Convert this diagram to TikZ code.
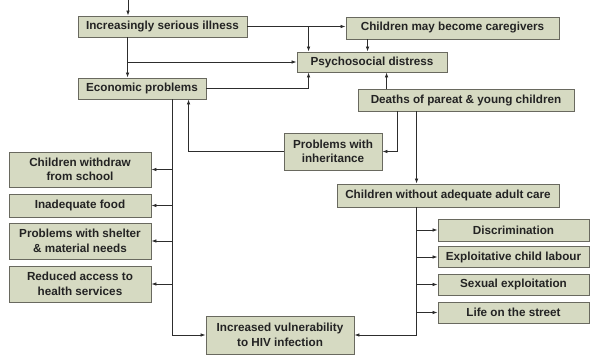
\documentclass[tikz,border=0pt]{standalone}
\usepackage{fontspec}
\setmainfont{Liberation Sans}
\usetikzlibrary{arrows.meta,calc}
\definecolor{boxfill}{RGB}{214,218,194}
\definecolor{boxdraw}{RGB}{105,105,95}
\definecolor{linec}{RGB}{45,45,45}
\definecolor{txt}{RGB}{35,35,35}
\tikzset{
  box/.style={draw=boxdraw, fill=boxfill, line width=0.9pt, inner sep=0pt,
    font=\bfseries\fontsize{11.7}{14.5}\selectfont, text=txt, align=center},
  arr/.style={draw=linec, line width=0.8pt, -{Latex[length=5pt,width=3.6pt]}},
  ln/.style={draw=linec, line width=0.8pt}
}
\begin{document}
\begin{tikzpicture}[x=1pt,y=-1pt]
\useasboundingbox (0,0) rectangle (591,356);
% nodes
\node[box, minimum width=169, minimum height=21] (ill) at (162.5,26.5) {Increasingly serious illness};
\node[box, minimum width=213, minimum height=22] (care) at (452.5,28) {Children may become caregivers};
\node[box, minimum width=150, minimum height=20] (psy) at (372,62) {Psychosocial distress};
\node[box, minimum width=128, minimum height=21] (econ) at (142,88.5) {Economic problems};
\node[box, minimum width=216, minimum height=22] (dea) at (466,100) {Deaths of pareat \& young children};
\node[box, minimum width=98, minimum height=37] (inh) at (333,151.5) {Problems with\\inheritance};
\node[box, minimum width=222, minimum height=23] (noc) at (448,195.5) {Children without adequate adult care};
\node[box, minimum width=151, minimum height=22] (dis) at (513.5,230) {Discrimination};
\node[box, minimum width=151, minimum height=21] (exp) at (513.5,257) {Exploitative child labour};
\node[box, minimum width=151, minimum height=21] (sex) at (513.5,284.5) {Sexual exploitation};
\node[box, minimum width=151, minimum height=21] (str) at (513.5,312.5) {Life on the street};
\node[box, minimum width=148, minimum height=38] (hiv) at (280,335) {Increased vulnerability\\to HIV infection};
\node[box, minimum width=142, minimum height=35] (wd) at (80,169.5) {Children withdraw\\from school};
\node[box, minimum width=142, minimum height=23] (food) at (80,205.5) {Inadequate food};
\node[box, minimum width=142, minimum height=36] (shel) at (80,241) {Problems with shelter\\\& material needs};
\node[box, minimum width=142, minimum height=36] (hea) at (80,284) {Reduced access to\\health services};
% helper coordinates
\coordinate (top) at (128,0);
\coordinate (ix) at ([xshift=50pt]ill.south west);
\coordinate (jx) at ([xshift=12pt]psy.north west);
\coordinate (ex) at ([xshift=95pt]econ.south west);
\coordinate (nx) at ([xshift=80pt]noc.south west);
% connectors
\draw[arr] (top) -- (top |- ill.north);
\draw[arr] (ill.east) -- (ill.east -| care.west);
\draw[arr] (jx |- ill.east) -- (jx);
\draw[arr] ([xshift=22pt]care.south west) -- ([xshift=22pt]care.south west |- psy.north);
\draw[arr] (ix) -- (ix |- econ.north);
\draw[arr] (ix |- psy.west) -- (psy.west);
\draw[arr] (econ.east) -| ([xshift=12pt]psy.south west);
\draw[arr] ([xshift=29pt]dea.north west) -- ([xshift=29pt]dea.north west |- psy.south);
\draw[arr] ([xshift=40pt]dea.south west) |- (inh.east);
\draw[arr] ([xshift=59pt]dea.south west) -- ([xshift=59pt]dea.south west |- noc.north);
\draw[arr] (inh.west) -| ([xshift=111pt]econ.south west);
\draw[arr] (ex) |- (hiv.west);
\foreach \n in {wd,food,shel,hea} \draw[arr] (ex |- \n.east) -- (\n.east);
\draw[arr] (nx) |- (hiv.east);
\foreach \n in {dis,exp,sex,str} \draw[arr] (nx |- \n.west) -- (\n.west);
\end{tikzpicture}
\end{document}
